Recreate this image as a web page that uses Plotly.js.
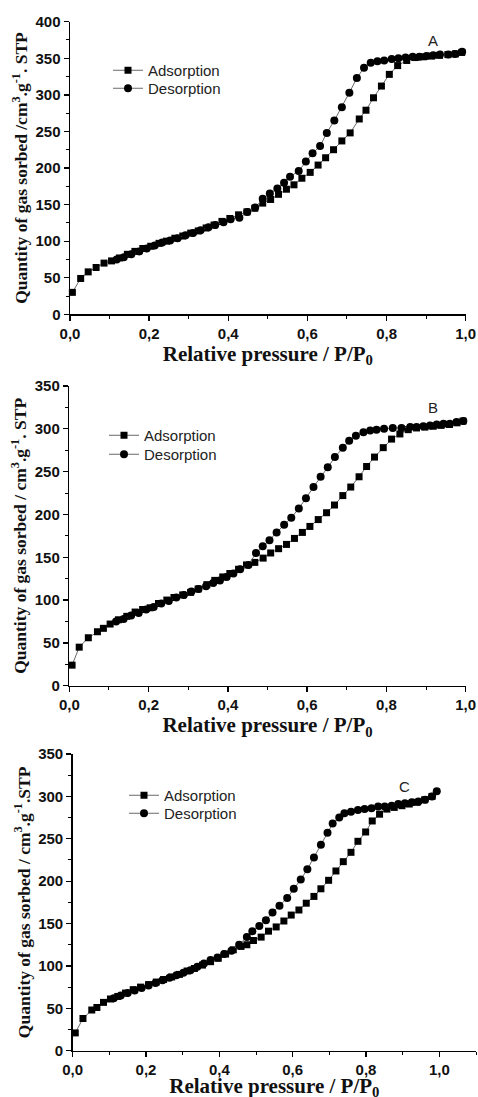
<!DOCTYPE html>
<html>
<head>
<meta charset="utf-8">
<script src="https://cdn.plot.ly/plotly-3.0.1.min.js"></script>
<style>
html,body{margin:0;padding:0;background:#fff;overflow:hidden;}
#chart{width:478px;height:1100px;}
</style>
</head>
<body>
<div id="chart"></div>
<script>
// ---------- Data ----------
var seriesNames = ["Adsorption", "Desorption"];
var panelLabels = ["A", "B", "C"];
var xTitle = "Relative pressure / P/P<sub>0</sub>";
var yTitles = [
  "Quantity of gas sorbed /cm<sup>3</sup>.g<sup>-1</sup>. STP",
  "Quantity of gas sorbed / cm<sup>3</sup>.g<sup>-1</sup>. STP",
  "Quantity of gas sorbed / cm<sup>3</sup>.g<sup>-1</sup>.STP"
];

// Panel A
var aAdsX = [0.006,0.027,0.046,0.066,0.086,0.105,0.125,0.145,0.164,0.184,0.204,0.225,0.244,0.265,0.285,0.305,0.324,0.344,0.364,0.384,0.404,0.426,0.447,0.467,0.487,0.507,0.527,0.547,0.566,0.586,0.607,0.627,0.646,0.666,0.687,0.708,0.731,0.748,0.767,0.787,0.807,0.828,0.851,0.872,0.893,0.914,0.934,0.955,0.974,0.990];
var aAdsY = [30,49,58,64,70,73,77,82,86,90,93,97,100,104,107,111,114,118,122,127,131,136,140,145,152,157,164,171,177,186,194,204,214,225,237,248,267,279,296,312,328,340,347,351,352,353,354,355,356,358];
var aDesX = [0.991,0.973,0.956,0.935,0.918,0.901,0.883,0.866,0.848,0.830,0.813,0.794,0.777,0.760,0.743,0.725,0.706,0.687,0.668,0.649,0.632,0.613,0.596,0.578,0.556,0.541,0.524,0.505,0.487,0.468,0.448,0.428,0.406,0.388,0.367,0.350,0.330,0.311,0.292,0.272,0.253,0.233,0.214,0.194,0.175,0.155,0.136,0.118];
var aDesY = [359,356,355,355,354,353,352,352,351,350,349,347,346,344,337,323,303,283,265,248,230,220,209,196,188,180,172,165,158,146,140,132,130,126,122,119,115,111,108,104,101,98,94,90,86,82,78,75];

// Panel B
var bAdsX = [0.007,0.025,0.048,0.071,0.086,0.103,0.124,0.145,0.166,0.185,0.204,0.225,0.246,0.264,0.286,0.306,0.325,0.347,0.367,0.387,0.405,0.427,0.447,0.468,0.489,0.508,0.528,0.548,0.568,0.588,0.607,0.628,0.649,0.669,0.690,0.710,0.731,0.750,0.770,0.792,0.813,0.834,0.855,0.876,0.897,0.918,0.938,0.959,0.978,0.993];
var bAdsY = [24,45,56,63,67,72,77,81,86,89,91,96,100,103,106,109,113,118,123,127,131,136,141,144,149,155,160,165,172,179,186,194,202,211,222,232,244,256,267,278,288,294,299,301,302,303,304,305,307,309];
var bDesX = [0.994,0.977,0.960,0.944,0.927,0.910,0.893,0.876,0.860,0.838,0.816,0.794,0.775,0.759,0.742,0.723,0.706,0.690,0.670,0.652,0.634,0.616,0.597,0.579,0.560,0.542,0.523,0.505,0.488,0.471,0.452,0.431,0.414,0.397,0.380,0.363,0.345,0.326,0.308,0.289,0.270,0.251,0.232,0.213,0.194,0.175,0.156,0.137,0.118];
var bDesY = [309,308,306,306,305,304,303,302,302,301,301,300,299,298,296,292,286,278,267,255,244,232,219,207,196,188,179,170,163,155,141,136,131,127,123,120,116,113,110,106,103,99,96,92,89,85,82,78,75];

// Panel C
var cAdsX = [0.007,0.028,0.052,0.066,0.084,0.103,0.123,0.144,0.165,0.185,0.207,0.228,0.248,0.270,0.291,0.312,0.332,0.354,0.376,0.397,0.417,0.438,0.459,0.475,0.493,0.514,0.534,0.555,0.576,0.596,0.617,0.637,0.658,0.677,0.698,0.718,0.738,0.759,0.778,0.799,0.817,0.837,0.857,0.877,0.898,0.918,0.939,0.960,0.980];
var cAdsY = [21,38,48,51,57,61,64,68,72,75,78,81,84,87,90,94,97,101,105,109,114,119,123,125,130,134,141,146,153,160,166,174,182,191,201,212,223,234,247,258,271,279,285,287,289,291,293,296,300];
var cDesX = [0.993,0.980,0.961,0.943,0.925,0.906,0.888,0.870,0.851,0.833,0.815,0.796,0.778,0.759,0.741,0.727,0.709,0.695,0.677,0.658,0.640,0.622,0.603,0.585,0.564,0.545,0.527,0.509,0.490,0.475,0.454,0.433,0.413,0.395,0.376,0.358,0.340,0.321,0.302,0.283,0.264,0.245,0.226,0.207,0.188,0.169,0.150,0.131,0.112];
var cDesY = [306,300,296,294,293,292,291,289,288,288,286,285,284,282,280,275,268,257,243,228,214,202,191,180,171,163,154,147,141,134,125,118,114,110,107,103,99,95,92,89,86,83,80,77,74,71,68,65,62];

var xTickVals = [0, 0.2, 0.4, 0.6, 0.8, 1.0];

// ---------- Layout geometry (pixels) ----------
var W = 478, H = 1100;
function px(v){ return v / W; }
function py(v){ return 1 - v / H; }

var panels = [
  {ads:[aAdsX,aAdsY], des:[aDesX,aDesY], xr:[0,1.0], yr:[0,400], l:70, r:465.7, t:21.7, b:314.3, legX:108, legY:[54,72], lab:[433,40]},
  {ads:[bAdsX,bAdsY], des:[bDesX,bDesY], xr:[0,1.0], yr:[0,350], l:69.3, r:465.7, t:386, b:685.7, legX:104, legY:[419,438], lab:[433,407]},
  {ads:[cAdsX,cAdsY], des:[cDesX,cDesY], xr:[0,1.1], yr:[0,350], l:72.7, r:476, t:754, b:1050.7, legX:124, legY:[779,797], lab:[404,786]}
];

var traces = [];
var layout = {
  width: W, height: H,
  margin: {l:0, r:0, t:0, b:0},
  paper_bgcolor: '#fff', plot_bgcolor: '#fff',
  separators: ',.',
  showlegend: true,
  annotations: []
};

var tickFont = {family: 'Liberation Sans, Arial, sans-serif', size: 15, weight: 'bold', color: '#111'};
var legCount = 0;

panels.forEach(function(p, i){
  var n = i === 0 ? '' : String(i + 1);
  var lineStyle = {color: '#6a6a6a', width: 1};
  var sets = [p.ads, p.des];
  var symbols = [{symbol: 'square', size: 7, color: '#000'}, {symbol: 'circle', size: 8, color: '#000'}];
  sets.forEach(function(s, k){
    legCount += 1;
    var legName = legCount === 1 ? 'legend' : 'legend' + legCount;
    traces.push({
      x: s[0], y: s[1], type: 'scatter', mode: 'lines+markers',
      name: seriesNames[k], xaxis: 'x' + n, yaxis: 'y' + n, legend: legName,
      line: lineStyle, marker: symbols[k], cliponaxis: false
    });
    layout[legName] = {
      x: px(p.legX), y: py(p.legY[k]), xanchor: 'left', yanchor: 'top',
      bgcolor: 'rgba(0,0,0,0)', borderwidth: 0,
      font: {family: 'Liberation Sans, Arial, sans-serif', size: 15, color: '#222'}
    };
  });
  layout['xaxis' + n] = {
    domain: [px(p.l), px(p.r)], range: p.xr, anchor: 'y' + n,
    showgrid: false, zeroline: false, showline: true, linecolor: '#000', linewidth: 1.5,
    ticks: 'outside', ticklen: 5, tickwidth: 1.3, tickcolor: '#000',
    tickvals: xTickVals, tickformat: '.1f', tickfont: tickFont,
    minor: {dtick: 0.1, tick0: 0, ticks: 'outside', ticklen: 3, tickwidth: 1, tickcolor: '#000', showgrid: false},
    title: {text: xTitle, font: {family: 'Liberation Serif, Times New Roman, serif', size: 21, weight: 'bold', color: '#111'}, standoff: 0},
    fixedrange: true
  };
  layout['yaxis' + n] = {
    domain: [py(p.b), py(p.t)], range: p.yr, anchor: 'x' + n,
    showgrid: false, zeroline: false, showline: true, linecolor: '#000', linewidth: 1.5,
    ticks: 'outside', ticklen: 5, tickwidth: 1.3, tickcolor: '#000',
    dtick: 50, tick0: 0, tickfont: tickFont,
    minor: {dtick: 25, tick0: 0, ticks: 'outside', ticklen: 3, tickwidth: 1, tickcolor: '#000', showgrid: false},
    title: {text: yTitles[i], font: {family: 'Liberation Serif, Times New Roman, serif', size: 17.5, weight: 'bold', color: '#111'}, standoff: 3},
    fixedrange: true
  };
  layout.annotations.push({
    text: panelLabels[i], xref: 'paper', yref: 'paper',
    x: px(p.lab[0]), y: py(p.lab[1]), xanchor: 'center', yanchor: 'middle',
    showarrow: false, font: {family: 'Liberation Sans, Arial, sans-serif', size: 15, color: '#222'}
  });
});

Plotly.newPlot('chart', traces, layout, {displayModeBar: false, staticPlot: true});
</script>
</body>
</html>
